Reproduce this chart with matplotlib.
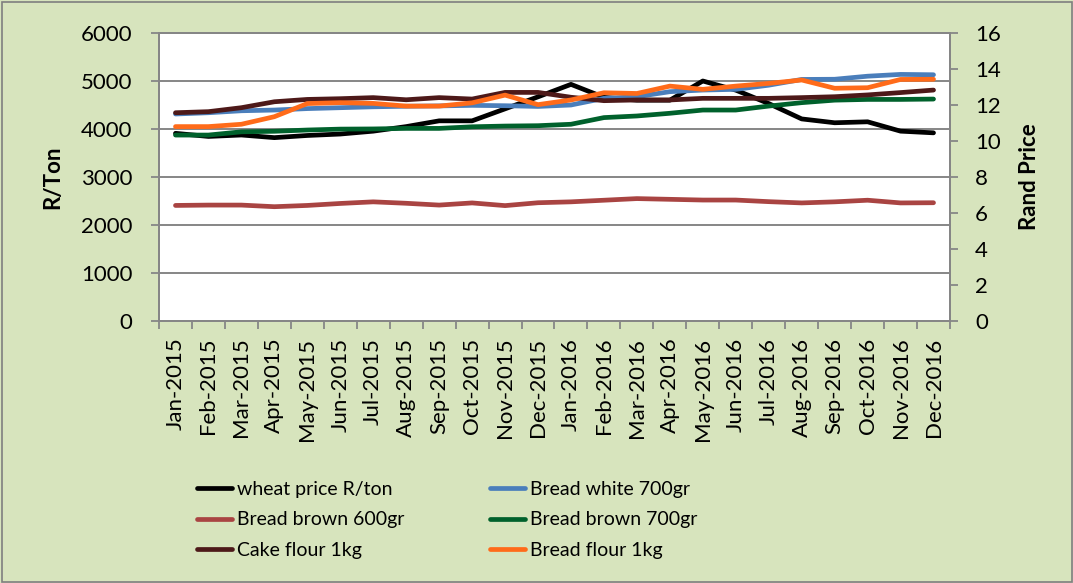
import matplotlib
matplotlib.use("Agg")
import matplotlib.pyplot as plt
from matplotlib.patches import Rectangle

months = ["Jan-2015", "Feb-2015", "Mar-2015", "Apr-2015", "May-2015", "Jun-2015",
          "Jul-2015", "Aug-2015", "Sep-2015", "Oct-2015", "Nov-2015", "Dec-2015",
          "Jan-2016", "Feb-2016", "Mar-2016", "Apr-2016", "May-2016", "Jun-2016",
          "Jul-2016", "Aug-2016", "Sep-2016", "Oct-2016", "Nov-2016", "Dec-2016"]

wheat = [3910, 3845, 3875, 3820, 3865, 3895, 3955, 4050, 4170, 4170, 4420, 4670,
         4930, 4660, 4600, 4600, 5000, 4810, 4530, 4210, 4130, 4150, 3955, 3920]
bread_white_700 = [11.50, 11.57, 11.68, 11.72, 11.80, 11.85, 11.90, 11.93, 11.95, 11.98, 11.96, 11.92,
                   12.00, 12.37, 12.46, 12.74, 12.83, 12.87, 13.10, 13.42, 13.43, 13.60, 13.70, 13.68]
bread_brown_600 = [6.42, 6.44, 6.44, 6.35, 6.42, 6.53, 6.62, 6.54, 6.44, 6.56, 6.41, 6.57,
                   6.62, 6.71, 6.80, 6.76, 6.72, 6.72, 6.63, 6.56, 6.62, 6.71, 6.56, 6.57]
bread_brown_700 = [10.33, 10.33, 10.51, 10.54, 10.61, 10.66, 10.67, 10.70, 10.70, 10.79, 10.83, 10.85,
                   10.93, 11.30, 11.39, 11.54, 11.72, 11.72, 11.94, 12.13, 12.27, 12.31, 12.31, 12.33]
cake_flour_1kg = [11.57, 11.63, 11.85, 12.18, 12.31, 12.35, 12.41, 12.29, 12.41, 12.33, 12.70, 12.70,
                  12.43, 12.24, 12.28, 12.28, 12.37, 12.37, 12.37, 12.41, 12.46, 12.56, 12.69, 12.83]
bread_flour_1kg = [10.80, 10.80, 10.93, 11.35, 12.08, 12.13, 12.09, 11.94, 11.94, 12.12, 12.55, 12.02,
                   12.28, 12.68, 12.64, 13.05, 12.87, 13.05, 13.20, 13.39, 12.93, 12.96, 13.42, 13.43]

left_ticks = [0, 1000, 2000, 3000, 4000, 5000, 6000]
right_ticks = [0, 2, 4, 6, 8, 10, 12, 14, 16]

BG = "#D7E4BD"
GRID = "#868686"
FONT = "Lato"
plt.rcParams["font.family"] = [FONT, "DejaVu Sans"]

fig = plt.figure(figsize=(10.73, 5.83), dpi=100, facecolor=BG)
W, H = 1073, 583
ax = fig.add_axes([159 / W, 1 - 321 / H, (950 - 159) / W, (321 - 33) / H])
ax.set_facecolor("white")
ax2 = ax.twinx()

x = list(range(len(months)))
lw = 3.4
l_wheat, = ax.plot(x, wheat, color="#000000", lw=lw, solid_capstyle="round", label="wheat price R/ton")
l_white, = ax2.plot(x, bread_white_700, color="#4A7EBB", lw=lw, solid_capstyle="round", label="Bread white 700gr")
l_b600, = ax2.plot(x, bread_brown_600, color="#A94442", lw=lw, solid_capstyle="round", label="Bread brown 600gr")
l_b700, = ax2.plot(x, bread_brown_700, color="#00612C", lw=lw, solid_capstyle="round", label="Bread brown 700gr")
l_cake, = ax2.plot(x, cake_flour_1kg, color="#4D1919", lw=lw, solid_capstyle="round", label="Cake flour 1kg")
l_flour, = ax2.plot(x, bread_flour_1kg, color="#FF6B1A", lw=lw, solid_capstyle="round", label="Bread flour 1kg")

ax.set_xlim(-0.5, len(months) - 0.5)
ax.set_ylim(0, 6000)
ax2.set_ylim(0, 16)
ax.set_yticks(left_ticks)
ax2.set_yticks(right_ticks)
ax.set_xticks(x)
ax.set_xticklabels(months, rotation=90, fontsize=16)
ax.set_xticks([i - 0.5 for i in range(len(months) + 1)], minor=True)
ax.tick_params(axis="x", which="major", length=0, pad=12)
ax.tick_params(axis="x", which="minor", length=6, width=1.3, color=GRID)
ax.tick_params(axis="y", length=6, width=1.3, color=GRID, labelsize=16, pad=13)
ax2.tick_params(axis="y", length=6, width=1.3, color=GRID, labelsize=16, pad=12)

ax.grid(axis="y", color=GRID, lw=1.4)
ax.set_axisbelow(True)
for a in (ax, ax2):
    for s in a.spines.values():
        s.set_color(GRID)
        s.set_linewidth(1.4)

ax.set_ylabel("R/Ton", fontsize=16, fontweight="bold", labelpad=13)
ax2.set_ylabel("Rand Price", fontsize=16, fontweight="bold", labelpad=13)

handles = [l_wheat, l_b600, l_cake, l_white, l_b700, l_flour]
fig.legend(handles=handles, labels=[h.get_label() for h in handles], ncol=2,
           loc="upper left", bbox_to_anchor=(187 / W, 1 - 471 / H), frameon=False,
           prop={"size": 14}, borderpad=0, handlelength=1.8,
           handletextpad=0.26, columnspacing=4.4, labelspacing=0.7)

fig.patches.append(Rectangle((1.5 / W, 1.5 / H), 1 - 3 / W, 1 - 3 / H, transform=fig.transFigure,
                             fill=False, edgecolor="#7F7F7F", lw=1.2))

fig.savefig("out.png", dpi=100, facecolor=BG)
